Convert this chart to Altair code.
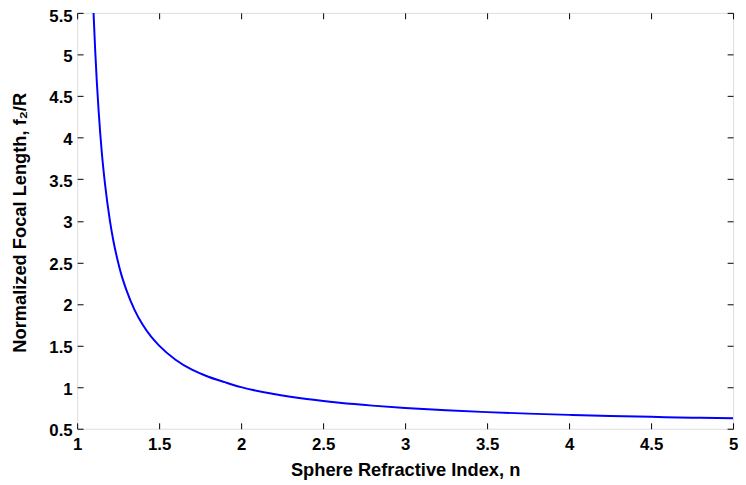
import altair as alt
import pandas as pd

# Values
n_vals = [1.10, 1.11, 1.12, 1.13, 1.15, 1.17, 1.20, 1.22, 1.25, 1.27, 1.30, 1.35,
          1.40, 1.45, 1.50, 1.60, 1.70, 1.80, 1.90, 2.00, 2.20, 2.40, 2.60, 2.80,
          3.00, 3.25, 3.50, 3.75, 4.00, 4.25, 4.50, 4.75, 5.00]
f_vals = [5.50, 5.05, 4.67, 4.35, 3.83, 3.44, 3.00, 2.77, 2.50, 2.35, 2.17, 1.93,
          1.75, 1.61, 1.50, 1.33, 1.21, 1.125, 1.06, 1.00, 0.917, 0.857, 0.8125, 0.778,
          0.750, 0.722, 0.700, 0.682, 0.667, 0.654, 0.643, 0.633, 0.625]

x_ticks = [1, 1.5, 2, 2.5, 3, 3.5, 4, 4.5, 5]
y_ticks = [0.5, 1, 1.5, 2, 2.5, 3, 3.5, 4, 4.5, 5, 5.5]

df = pd.DataFrame({"n": n_vals, "f": f_vals})

FONT = "Liberation Sans"
TICK = 6

x_scale = alt.Scale(domain=[1, 5], nice=False, zero=False)
y_scale = alt.Scale(domain=[0.5, 5.5], nice=False, zero=False)

common_axis = dict(
    domain=False, grid=False, tickSize=TICK, tickColor="black", tickWidth=1,
    offset=-TICK, labelFont=FONT, labelFontSize=17, labelFontWeight="bold",
    labelColor="black", titleFont=FONT, titleFontSize=18.5, titleFontWeight="bold",
    titleColor="black", labelFlush=False, labelOverlap=False, format="~g",
)

main = alt.Chart(df).mark_line(color="#0000FF", strokeWidth=2, clip=True,
                               interpolate="monotone").encode(
    x=alt.X("n:Q", scale=x_scale,
            axis=alt.Axis(values=x_ticks, orient="bottom",
                          title="Sphere Refractive Index, n",
                          labelPadding=8, titleBaseline="alphabetic",
                          titleY=53, **common_axis)),
    y=alt.Y("f:Q", scale=y_scale,
            axis=alt.Axis(values=y_ticks, orient="left",
                          title="Normalized Focal Length, f₂/R",
                          labelPadding=5,
                          labelOffset={"condition": {"test": "datum.value == 5.5", "value": 3.5},
                                       "value": 2},
                          titleAngle=270, titleBaseline="alphabetic",
                          titleAlign="center", titleX=-58, titleY=212,
                          **common_axis)),
)

mirror_axis = dict(common_axis)
mirror_axis.update(labels=False, title=None)
mirror_axis.pop("format")

mirror = alt.Chart(df).mark_line(opacity=0).encode(
    x=alt.X("n:Q", scale=x_scale,
            axis=alt.Axis(values=x_ticks, orient="top", **mirror_axis)),
    y=alt.Y("f:Q", scale=y_scale,
            axis=alt.Axis(values=y_ticks, orient="right", **mirror_axis)),
)

chart = alt.layer(main, mirror).resolve_axis(x="independent", y="independent").properties(
    width=664, height=421,
    autosize=alt.AutoSizeParams(type="none"),
    padding={"left": 70, "top": 2, "right": 5, "bottom": 54},
).configure_view(stroke="black", strokeWidth=1).configure(background="white")

chart.save("out.html", embed_options={"renderer": "svg", "actions": False})
